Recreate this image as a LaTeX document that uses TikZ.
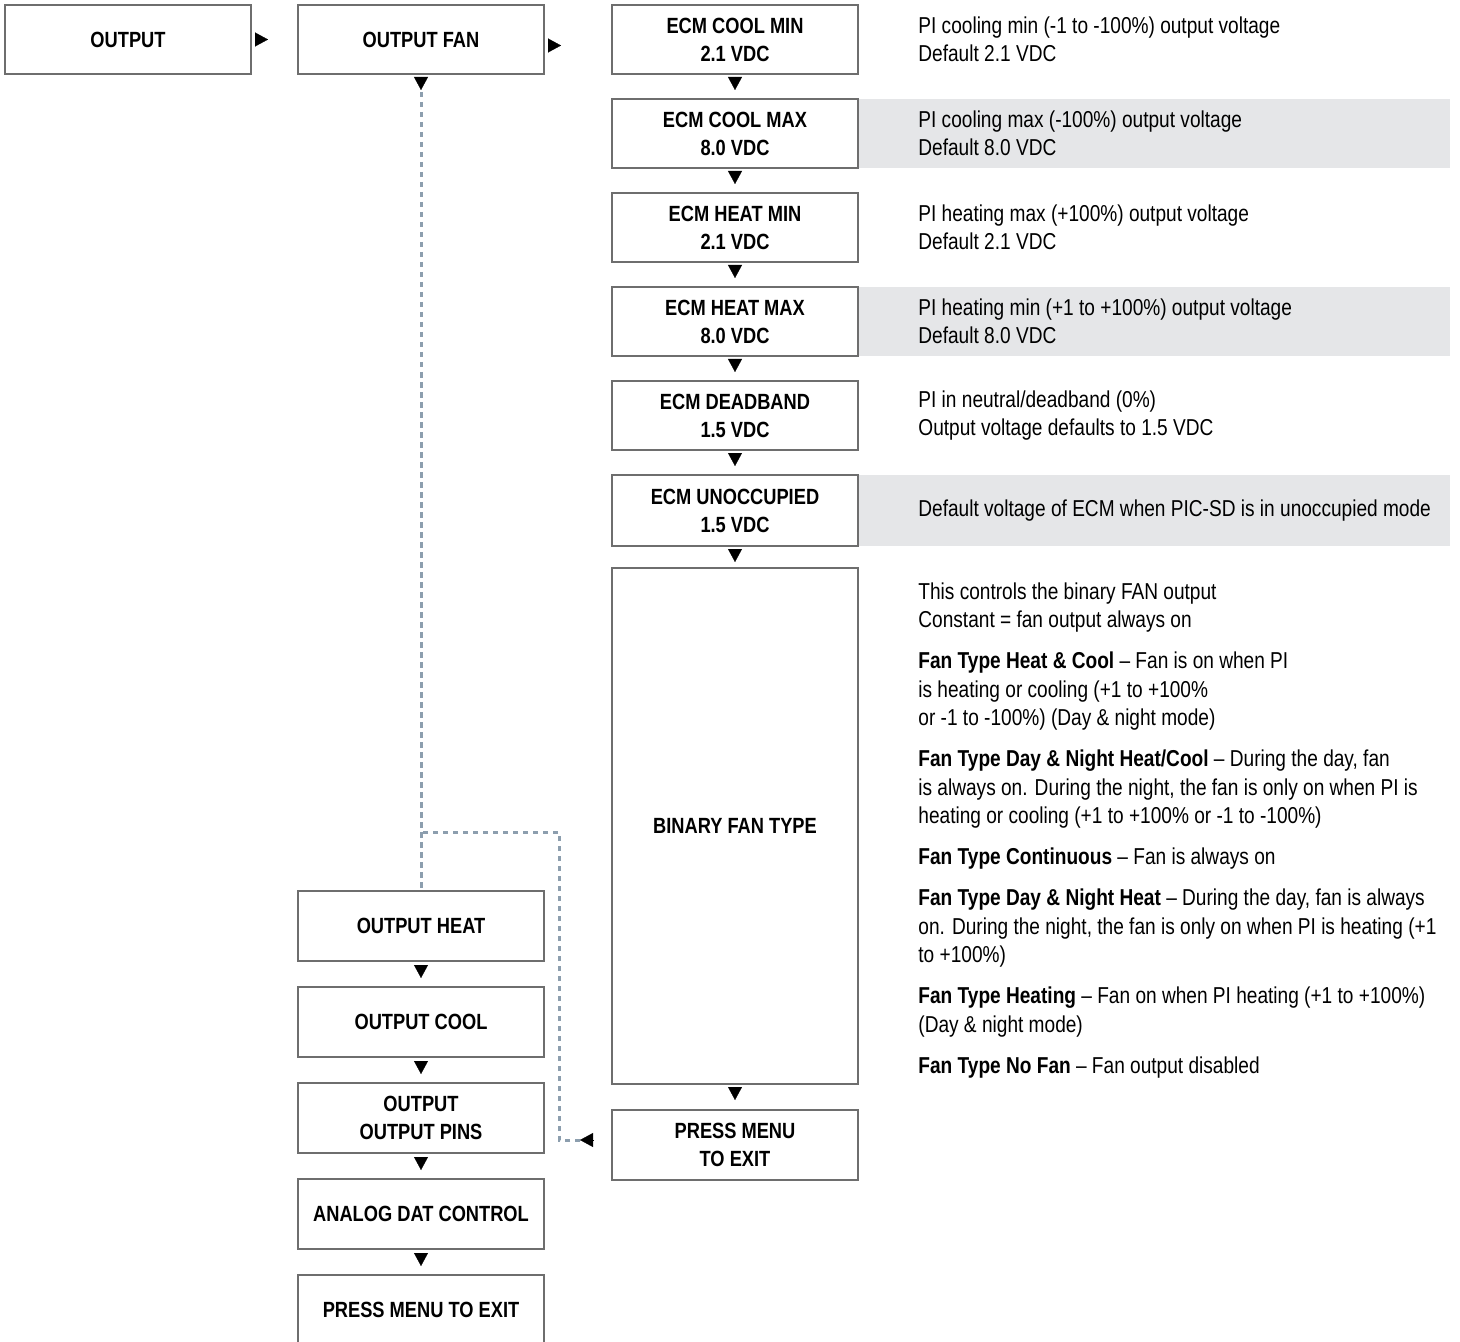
\documentclass[tikz,border=0pt]{standalone}
\usepackage{fontspec}
\setmainfont{Liberation Sans}[FakeStretch=0.83]
\usepackage{tikz}
\usetikzlibrary{positioning, arrows.meta, backgrounds}

\definecolor{bandgray}{HTML}{E5E6E8}
\definecolor{loopblue}{HTML}{8C9EAE}
\definecolor{boxline}{HTML}{6E6E6E}

\newcommand{\boxfont}{\fontsize{11pt}{14pt}\selectfont\bfseries}
\newcommand{\notefont}{\fontsize{11.5pt}{14.25pt}\selectfont}

\tikzset{
    menubox/.style={draw=boxline, line width=0.75pt, fill=white, minimum width=123pt,
        minimum height=34.5pt, inner sep=0pt, outer sep=0pt, align=center, font=\boxfont},
    notes/.style={align=left, inner sep=0pt, font=\notefont, anchor=west},
    flowtip/.style={-{Triangle[length=6.5pt,width=7pt]}, black, line width=0.1pt},
    loopline/.style={draw=loopblue, line width=1.5pt, dash pattern=on 2.75pt off 2.25pt}
}

\begin{document}
\begin{tikzpicture}[x=0.5pt, y=-0.5pt]
    \useasboundingbox (0,0) rectangle (1460,1342);

    % top row
    \node[menubox] (output) at (128,39.5) {OUTPUT};
    \node[menubox] (fan) at (421,39.5) {OUTPUT FAN};

    % fan settings column
    \node[menubox] (cmin) at (735,39.5) {ECM COOL MIN\\2.1 VDC};
    \node[menubox] (cmax) at (735,133.5) {ECM COOL MAX\\8.0 VDC};
    \node[menubox] (hmin) at (735,227.5) {ECM HEAT MIN\\2.1 VDC};
    \node[menubox] (hmax) at (735,321.5) {ECM HEAT MAX\\8.0 VDC};
    \node[menubox] (dband) at (735,415.5) {ECM DEADBAND\\1.5 VDC};
    \node[menubox, minimum height=35.5pt] (unocc) at (735,510.5) {ECM UNOCCUPIED\\1.5 VDC};
    \node[menubox, minimum height=258pt] (bintype) at (735,826) {BINARY FAN TYPE};
    \node[menubox, minimum height=35pt] (rexit) at (735,1145) {PRESS MENU\\TO EXIT};

    % output column
    \node[menubox, minimum height=35pt] (heat) at (421,926) {OUTPUT HEAT};
    \node[menubox, minimum height=35pt] (cool) at (421,1022) {OUTPUT COOL};
    \node[menubox, minimum height=35pt] (pins) at (421,1118) {OUTPUT\\OUTPUT PINS};
    \node[menubox, minimum height=35pt] (analog) at (421,1214) {ANALOG DAT CONTROL};
    \node[menubox, minimum height=35pt] (lexit) at (421,1310) {PRESS MENU TO EXIT};

    % shaded rows
    \begin{scope}[on background layer]
        \foreach \n in {cmax,hmax,unocc}
        {
            \fill[bandgray] (\n.north east) rectangle (1450,0 |- \n.south);
        }
    \end{scope}

    % descriptions
    \node[notes, right=30pt of cmin] (cminnote) {PI cooling min (-1 to -100\%) output voltage\\Default 2.1 VDC};
    \node[notes, right=30pt of cmax] (cmaxnote) {PI cooling max (-100\%) output voltage\\Default 8.0 VDC};
    \node[notes, right=30pt of hmin] (hminnote) {PI heating max (+100\%) output voltage\\Default 2.1 VDC};
    \node[notes, right=30pt of hmax] (hmaxnote) {PI heating min (+1 to +100\%) output voltage\\Default 8.0 VDC};
    \node[notes, right=30pt of dband] (dbandnote) {PI in neutral/deadband (0\%)\\Output voltage defaults to 1.5 VDC};
    \node[notes, right=30pt of unocc] (unoccnote) {Default voltage of ECM when PIC-SD is in unoccupied mode};
    \node[notes, anchor=north west] (binnote) at ([xshift=30pt, yshift=-7pt]bintype.north east) {%
        This controls the binary FAN output\\
        Constant = fan output always on\\[6.25pt]
        \textbf{Fan Type Heat \& Cool} -- Fan is on when PI\\
        is heating or cooling (+1 to +100\%\\
        or -1 to -100\%) (Day \& night mode)\\[6.25pt]
        \textbf{Fan Type Day \& Night Heat/Cool} -- During the day, fan\\
        is always on. During the night, the fan is only on when PI is\\
        heating or cooling (+1 to +100\% or -1 to -100\%)\\[6.25pt]
        \textbf{Fan Type Continuous} -- Fan is always on\\[6.25pt]
        \textbf{Fan Type Day \& Night Heat} -- During the day, fan is always\\
        on. During the night, the fan is only on when PI is heating (+1\\
        to +100\%)\\[6.25pt]
        \textbf{Fan Type Heating} -- Fan on when PI heating (+1 to +100\%)\\
        (Day \& night mode)\\[6.25pt]
        \textbf{Fan Type No Fan} -- Fan output disabled};

    % arrow heads between boxes
    \draw[flowtip, shorten <=2pt, shorten >=15pt] (output.east) -- (fan.west);
    \draw[flowtip, shorten <=2pt, shorten >=25.5pt] ([yshift=-3pt]fan.east) -- ([yshift=-3pt]cmin.west);
    \foreach \a/\b/\g in {cmin/cmax/4.5pt, cmax/hmin/4.5pt, hmin/hmax/4.5pt, hmax/dband/4.5pt,
        dband/unocc/4.5pt, unocc/bintype/3pt, bintype/rexit/5pt}
    {
        \draw[flowtip, shorten <=1.5pt, shorten >=\g] (\a.south) -- (\b.north);
    }
    \foreach \a/\b in {heat/cool, cool/pins, pins/analog, analog/lexit}
    {
        \draw[flowtip, shorten <=2pt, shorten >=4.5pt] (\a.south) -- (\b.north);
    }

    % dashed return path
    \coordinate (fandrop) at ([yshift=-9pt]fan.south);
    \coordinate (loopjoin) at (421,832);
    \coordinate (loopright) at (559,832);
    \coordinate (exitend) at (580,1140);
    \draw[flowtip, shorten <=1.5pt, shorten >=1pt] (fan.south) -- (fandrop);
    \draw[loopline] (fandrop) -- (heat.north);
    \draw[loopline] (exitend) -| (loopright) -- (loopjoin);
    \draw[flowtip, shorten <=9.5pt] ([yshift=2.5pt]rexit.west) -- (exitend);
\end{tikzpicture}
\end{document}
